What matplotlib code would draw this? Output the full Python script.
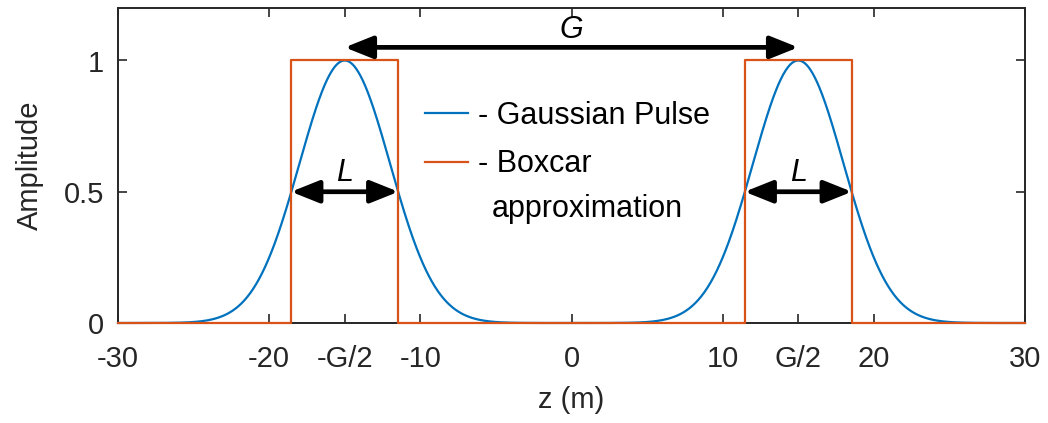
import numpy as np
import matplotlib
matplotlib.use("Agg")
import matplotlib.pyplot as plt

plt.rcParams['font.family'] = ['Liberation Sans', 'DejaVu Sans']

# gaussian pulses (centre and width)
pulse_centers = [-15.0, 15.0]
pulse_sigma = 3.0
z = np.linspace(-30, 30, 1201)
amp = np.zeros_like(z)
for c in pulse_centers:
    amp += np.exp(-(z - c) ** 2 / (2 * pulse_sigma ** 2))

# boxcar approximation
box_z = [-30, -18.55, -18.55, -11.45, -11.45, 11.45, 11.45, 18.55, 18.55, 30]
box_a = [0, 0, 1, 1, 0, 0, 1, 1, 0, 0]

xticks = [-30, -20, -15, -10, 0, 10, 15, 20, 30]
xticklabels = ['-30', '-20', '-G/2', '-10', '0', '10', 'G/2', '20', '30']
yticks = [0, 0.5, 1]
yticklabels = ['0', '0.5', '1']

# arrows: (x start, x end, y)
arrow_G = (-15, 15, 1.05)
arrows_L = [(-18.55, -11.45, 0.5), (11.45, 18.55, 0.5)]

blue = '#0072BD'
orange = '#D95319'
dark = '#262626'

fig = plt.figure(figsize=(10.48, 4.23), dpi=100)
ax = fig.add_axes([118 / 1048, 100 / 423, 907 / 1048, 315 / 423])

ax.plot(z, amp, color=blue, lw=1.6, label='- Gaussian Pulse', zorder=3, clip_on=False)
ax.plot(box_z, box_a, color=orange, lw=1.6, label='- Boxcar', zorder=3, clip_on=False)

ax.set_xlim(-30, 30)
ax.set_ylim(0, 1.2)
ax.set_xticks(xticks)
ax.set_xticklabels(xticklabels)
ax.set_yticks(yticks)
ax.set_yticklabels(yticklabels)
ax.tick_params(direction='in', length=6.5, width=1.2, colors=dark, labelsize=21,
               top=True, right=True)
ax.tick_params(axis='x', pad=16)
ax.tick_params(axis='y', pad=10)
for s in ax.spines.values():
    s.set_linewidth(1.4)
    s.set_color(dark)

ax.set_xlabel('z (m)', fontsize=21, color=dark, labelpad=9)
ax.set_ylabel('Amplitude', fontsize=21, color=dark, labelpad=14)

arrow_props = dict(arrowstyle='<|-|>,head_length=0.85,head_width=0.34', color='black',
                   lw=3.4, shrinkA=0, shrinkB=0, mutation_scale=20)
x0, x1, y = arrow_G
ax.annotate('', xy=(x1, y), xytext=(x0, y), arrowprops=arrow_props)
ax.text((x0 + x1) / 2, 1.115, 'G', fontsize=22, style='italic', ha='center', va='center')
for x0, x1, y in arrows_L:
    ax.annotate('', xy=(x1, y), xytext=(x0, y), arrowprops=arrow_props)
    ax.text((x0 + x1) / 2, 0.57, 'L', fontsize=22, style='italic', ha='center', va='center')

leg = ax.legend(loc='upper left', bbox_to_anchor=(0.3385, 0.705), frameon=False,
                fontsize=22, borderpad=0, borderaxespad=0, handlelength=1.4,
                handletextpad=0.33, labelspacing=0.6)
ax.text(0.412, 0.3365, 'approximation', transform=ax.transAxes, fontsize=22,
        ha='left', va='baseline')

fig.savefig('out.png', dpi=100)
